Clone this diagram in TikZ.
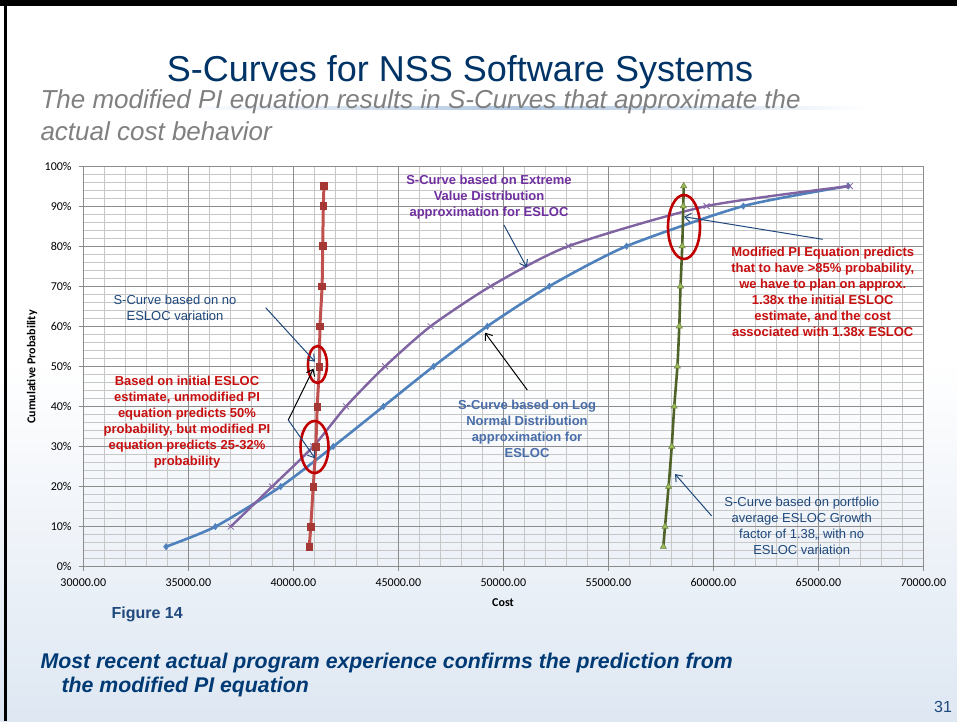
\documentclass[tikz,border=0pt]{standalone}
\usepackage{fontspec}
\setmainfont{Liberation Sans}
\newfontfamily\calibrifont{Carlito}
\usetikzlibrary{arrows.meta,plotmarks}

\definecolor{titlenavy}{RGB}{0,51,102}
\definecolor{textnavy}{RGB}{0,58,117}
\definecolor{notenavy}{RGB}{31,73,125}
\definecolor{notered}{RGB}{200,16,16}
\definecolor{ringred}{RGB}{192,0,0}
\definecolor{evpurple}{RGB}{112,48,160}
\definecolor{lntext}{RGB}{74,110,170}
\definecolor{lnblue}{RGB}{79,129,189}
\definecolor{evline}{RGB}{128,100,162}
\definecolor{flatred}{RGB}{192,80,77}
\definecolor{flatmark}{RGB}{165,55,52}
\definecolor{growline}{RGB}{79,98,40}
\definecolor{growmark}{RGB}{155,187,89}
\definecolor{bgblue}{RGB}{222,231,242}

\begin{document}
\begin{tikzpicture}[x=1pt,y=-1pt,
  minorgrid/.style={draw=black!22,line width=0.8pt},
  majorgrid/.style={draw=black!45,line width=0.9pt},
  ticklabel/.style={font=\calibrifont\fontsize{12}{14}\selectfont,inner sep=0pt},
  note/.style={font=\fontsize{13}{16}\selectfont,align=center,inner sep=0pt},
  boldnote/.style={note,font=\bfseries\fontsize{13}{16}\selectfont},
  callout/.style={draw=notenavy,line width=1pt,-{Straight Barb[length=6pt,width=9pt]}},
  blackcallout/.style={callout,draw=black},
  ringmark/.style={draw=ringred,line width=2.6pt}]

% Slide background and frame
\useasboundingbox (0,0) rectangle (957,721);
\fill[white] (0,0) rectangle (957,721);
\shade[top color=white,bottom color=bgblue] (0,360) rectangle (957,721);
\fill[black] (0,0) rectangle (957,5.5);
\fill[black] (4,0) rectangle (6.5,721);

% Title and subtitle
\shade[left color=white,right color=white,middle color=lnblue!45] (177,106.5) rectangle (867,109.5);
\node[anchor=base,font=\fontsize{36}{40}\selectfont,text=titlenavy] (title) at (460,81) {S-Curves for NSS Software Systems};
\node[anchor=base west,font=\itshape\fontsize{26}{30}\selectfont,text=black!50] (subtitle1) at (37,108) {The modified PI equation results in S-Curves that approximate the};
\node[anchor=base west,font=\itshape\fontsize{26}{30}\selectfont,text=black!50] (subtitle2) at (37,140) {actual cost behavior};

% Chart grid, axes and data
\begin{scope}[shift={(83.3,566.7)},x=21pt,y=4.007pt]
  \foreach \i in {0,...,40} \draw[minorgrid] (\i,0) -- (\i,100);
  \foreach \j in {0,2,...,100} \draw[minorgrid] (0,\j) -- (40,\j);
  \foreach \i in {0,5,...,40} \draw[majorgrid] (\i,0) -- (\i,100);
  \foreach \j in {0,10,...,100} \draw[majorgrid] (0,\j) -- (40,\j);
  \foreach \i in {0,5,...,40} \draw[majorgrid] (\i,0) -- (\i,-1);
  \foreach \j in {0,10,...,100} \draw[majorgrid] (0,\j) -- (-0.2,\j);
  \foreach \i/\lab in {0/30000.00,5/35000.00,10/40000.00,15/45000.00,20/50000.00,25/55000.00,30/60000.00,35/65000.00,40/70000.00}
    \node[ticklabel] (xtick\i) at (\i,-4) {\lab};
  \foreach \j in {0,10,...,100}
    \node[ticklabel,anchor=east] (ytick\j) at (-0.55,\j) {\j\%};

  % Log normal S-curve
  \draw[lnblue,line width=2.6pt] plot[smooth,tension=0.4,mark=diamond*,mark size=3.2,
      mark options={fill=lnblue,draw=lnblue,line width=0.5pt}]
    coordinates {(3.94,5) (6.29,10) (9.40,20) (11.90,30) (14.29,40) (16.68,50) (19.24,60) (22.19,70) (25.87,80) (31.43,90) (36.43,95)};
  % Extreme value S-curve
  \draw[evline,line width=2.4pt] plot[smooth,tension=0.4,mark=x,mark size=4.2,
      mark options={draw=evline,line width=0.8pt}]
    coordinates {(7.02,10) (8.99,20) (10.95,30) (12.51,40) (14.37,50) (16.54,60) (19.40,70) (23.10,80) (29.68,90) (36.50,95)};
  % No ESLOC variation
  \draw[flatred,line width=3pt] plot[smooth,tension=0.4,mark=square*,mark size=3.4,
      mark options={fill=flatmark,draw=flatmark,line width=0.5pt}]
    coordinates {(10.76,5) (10.83,10) (10.95,20) (11.07,30) (11.14,40) (11.24,50) (11.27,60) (11.37,70) (11.40,80) (11.43,90) (11.46,95)};
  % Portfolio growth factor 1.38
  \draw[growline,line width=2.6pt] plot[smooth,tension=0.4,mark=triangle*,mark size=3.6,
      mark options={fill=growmark,draw=growmark!70!black,line width=0.5pt}]
    coordinates {(27.62,5) (27.70,10) (27.87,20) (28.02,30) (28.14,40) (28.29,50) (28.38,60) (28.44,70) (28.52,80) (28.57,90) (28.59,95)};
\end{scope}

\node[font=\calibrifont\bfseries\fontsize{12}{14}\selectfont] (costlabel) at (503,603) {Cost};
\node[font=\calibrifont\bfseries\fontsize{12}{14}\selectfont,rotate=90] (problabel) at (32,367) {Cumulative Probability};

% Red rings
\draw[ringmark] (317.5,364.5) ellipse [x radius=9.5,y radius=18.5];
\draw[ringmark] (314.5,447) ellipse [x radius=14,y radius=26];
\draw[ringmark] (684,227) ellipse [x radius=16,y radius=32];

% Annotations
\node[note,text=notenavy] (noesloc) at (175,308) {S-Curve based on no\\ESLOC variation};
\node[boldnote,text=notered] (basedinitial) at (187,421.7) {Based on initial ESLOC\\estimate, unmodified PI\\equation predicts 50\%\\probability, but modified PI\\equation predicts 25-32\%\\probability};
\node[boldnote,text=evpurple] (extreme) at (489,197.5) {S-Curve based on Extreme\\Value Distribution\\approximation for ESLOC};
\node[boldnote,text=lntext] (lognormal) at (527,428.5) {S-Curve based on Log\\Normal Distribution\\approximation for\\ESLOC};
\node[boldnote,text=notered] (modified) at (822.7,292.2) {Modified PI Equation predicts\\that to have >85\% probability,\\we have to plan on approx.\\1.38x the initial ESLOC\\estimate, and the cost\\associated with 1.38x ESLOC};
\node[note,text=notenavy] (portfolio) at (801.7,525.5) {S-Curve based on portfolio\\average ESLOC Growth\\factor of 1.38,, with no\\ESLOC variation};

% Callout arrows
\coordinate (noesloc-from) at (265.7,307.7);
\coordinate (noesloc-to) at (315,361.7);
\coordinate (fork) at (288.3,420);
\coordinate (fork-up) at (313.5,368.5);
\coordinate (fork-down) at (315,458.3);
\coordinate (extreme-from) at (504,225);
\coordinate (extreme-to) at (526.7,267.3);
\coordinate (lognormal-from) at (527.3,390);
\coordinate (lognormal-to) at (485,332.7);
\coordinate (modified-from) at (822.7,239.3);
\coordinate (modified-to) at (684,216.7);
\coordinate (portfolio-from) at (711.7,516);
\coordinate (portfolio-to) at (675,474);
\draw[callout] (noesloc-from) -- (noesloc-to);
\draw[blackcallout] (fork) -- (fork-up);
\draw[callout] (fork) -- (fork-down);
\draw[callout] (extreme-from) -- (extreme-to);
\draw[blackcallout] (lognormal-from) -- (lognormal-to);
\draw[callout] (modified-from) -- (modified-to);
\draw[callout] (portfolio-from) -- (portfolio-to);

% Figure caption and conclusion
\node[anchor=base west,font=\bfseries\fontsize{16}{19}\selectfont,text=notenavy] (figcaption) at (108,618) {Figure 14};
\node[anchor=base west,font=\bfseries\itshape\fontsize{21.3}{24}\selectfont,text=textnavy] (conclusion1) at (37,668) {Most recent actual program experience confirms the prediction from};
\node[anchor=base west,font=\bfseries\itshape\fontsize{21.3}{24}\selectfont,text=textnavy] (conclusion2) at (58,692) {the modified PI equation};
\node[anchor=base,font=\fontsize{16}{19}\selectfont,text=notenavy] (pagenum) at (943,712) {31};
\end{tikzpicture}
\end{document}
